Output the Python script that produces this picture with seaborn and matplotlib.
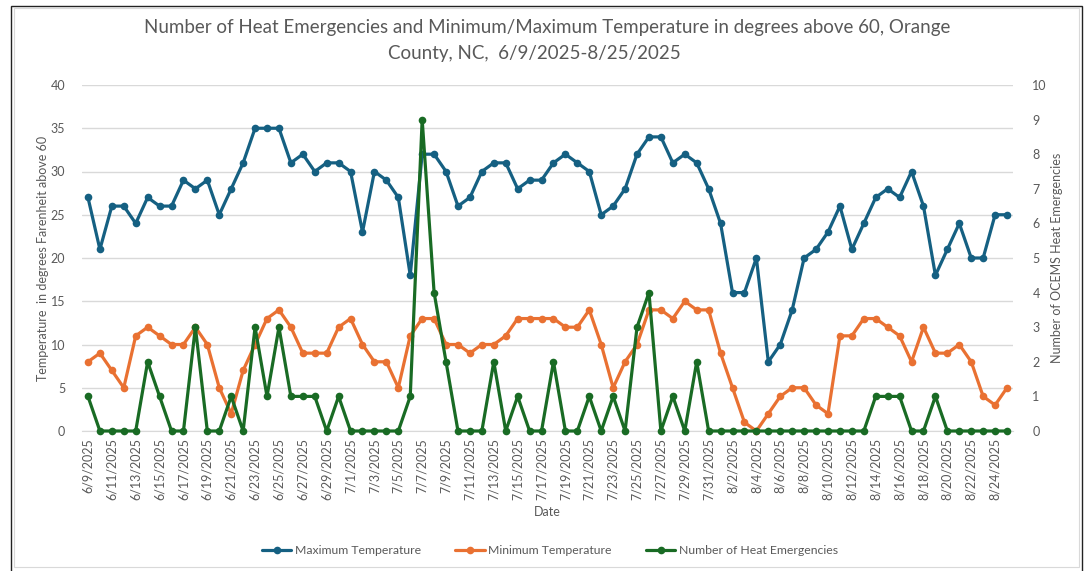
import matplotlib
matplotlib.use('Agg')
import matplotlib.pyplot as plt
from matplotlib.lines import Line2D
import seaborn as sns
import pandas as pd
import numpy as np

# Daily data, 6/9/2025 - 8/25/2025 (degrees above 60 F, heat emergency counts)
dates = pd.date_range('2025-06-09', '2025-08-25', freq='D')
date_labels = [f'{d.month}/{d.day}/{d.year}' for d in dates]

max_temp = [27, 21, 26, 26, 24, 27, 26, 26, 29, 28, 29, 25, 28, 31, 35, 35, 35, 31, 32, 30, 31, 31,
            30, 23, 30, 29, 27, 18, 32, 32, 30, 26, 27, 30, 31, 31, 28, 29, 29, 31, 32, 31, 30, 25,
            26, 28, 32, 34, 34, 31, 32, 31, 28,
            24, 16, 16, 20, 8, 10, 14, 20, 21, 23, 26, 21, 24, 27, 28, 27, 30, 26, 18, 21, 24, 20,
            20, 25, 25]
min_temp = [8, 9, 7, 5, 11, 12, 11, 10, 10, 12, 10, 5, 2, 7, 10, 13, 14, 12, 9, 9, 9, 12,
            13, 10, 8, 8, 5, 11, 13, 13, 10, 10, 9, 10, 10, 11, 13, 13, 13, 13, 12, 12, 14, 10,
            5, 8, 10, 14, 14, 13, 15, 14, 14,
            9, 5, 1, 0, 2, 4, 5, 5, 3, 2, 11, 11, 13, 13, 12, 11, 8, 12, 9, 9, 10, 8,
            4, 3, 5]
heat_emerg = [1, 0, 0, 0, 0, 2, 1, 0, 0, 3, 0, 0, 1, 0, 3, 1, 3, 1, 1, 1, 0, 1,
              0, 0, 0, 0, 0, 1, 9, 4, 2, 0, 0, 0, 2, 0, 1, 0, 0, 2, 0, 0, 1, 0,
              1, 0, 3, 4, 0, 1, 0, 2, 0,
              0, 0, 0, 0, 0, 0, 0, 0, 0, 0, 0, 0, 0, 1, 1, 1, 0, 0, 1, 0, 0, 0,
              0, 0, 0]

df = pd.DataFrame({'day': np.arange(len(dates)), 'max': max_temp,
                   'min': min_temp, 'heat': heat_emerg})

c_max, c_min, c_heat = '#156082', '#E97132', '#196B24'
grey = '#595959'

sns.set_style('white')
plt.rcParams['font.family'] = ['Lato', 'DejaVu Sans']

fig = plt.figure(figsize=(10.88, 5.71), dpi=100)
ax = fig.add_axes([82 / 1088, 140 / 571, 931 / 1088, 346 / 571])
ax2 = ax.twinx()

style = dict(marker='o', markersize=5.5, markeredgewidth=0, linewidth=2.3, clip_on=False)
sns.lineplot(data=df, x='day', y='max', ax=ax, color=c_max, legend=False, **style)
sns.lineplot(data=df, x='day', y='min', ax=ax, color=c_min, legend=False, **style)
sns.lineplot(data=df, x='day', y='heat', ax=ax2, color=c_heat, legend=False, **style)

ax.set_xlim(-0.5, len(dates) - 0.5)
ax.set_ylim(0, 40)
ax2.set_ylim(0, 10)
ax.set_yticks(range(0, 41, 5))
ax2.set_yticks(range(0, 11))

ax.set_xticks(df['day'][::2])
ax.set_xticklabels(date_labels[::2], rotation=90)
ax.set_xticks(np.arange(-0.5, len(dates), 2), minor=True)

ax.yaxis.grid(True, color='#d9d9d9', linewidth=1)
ax.set_axisbelow(True)
for a in (ax, ax2):
    for s in a.spines.values():
        s.set_visible(False)
ax.spines['bottom'].set_visible(True)
ax.spines['bottom'].set_color('#d9d9d9')

ax.tick_params(axis='y', length=0, pad=12, labelsize=9, labelcolor=grey)
ax2.tick_params(axis='y', length=0, pad=14, labelsize=9, labelcolor=grey)
ax.tick_params(axis='x', which='major', length=0, pad=5, labelsize=9, labelcolor=grey)
ax.tick_params(axis='x', which='minor', length=4, width=1, color='#d9d9d9')

ax.set_xlabel('Date', fontsize=9, color=grey, labelpad=4)
ax.set_ylabel('Temperature  in degrees Farenheit above 60', fontsize=9, color=grey, labelpad=1)
ax2.set_ylabel('Number of OCEMS Heat Emergencies', fontsize=9, color=grey, labelpad=3)

fig.text(547 / 1088, 1 - 27 / 571, 'Number of Heat Emergencies and Minimum/Maximum Temperature in degrees above 60, Orange',
         ha='center', va='center', fontsize=13.5, color=grey)
fig.text(534 / 1088, 1 - 53 / 571, 'County, NC,  6/9/2025-8/25/2025',
         ha='center', va='center', fontsize=13.5, color=grey)

handles = [Line2D([], [], color=c, marker='o', markersize=5.5, markeredgewidth=0, linewidth=2.3)
           for c in (c_max, c_min, c_heat)]
fig.legend(handles, ['Maximum Temperature', 'Minimum Temperature', 'Number of Heat Emergencies'],
           loc='center', bbox_to_anchor=(550 / 1088, 1 - 551 / 571), ncol=3, frameon=False,
           fontsize=8.8, labelcolor=grey, handlelength=2.4, handletextpad=0.3, columnspacing=2.8)

# chart border
fig.patches.append(plt.Rectangle((11 / 1088, -0.01), 1071 / 1088, 1 - 6 / 571 + 0.01,
                                 transform=fig.transFigure, fill=False, edgecolor='#222222', linewidth=1))
fig.patches.append(plt.Rectangle((14 / 1088, 4 / 571), 1065 / 1088, 1 - 12 / 571,
                                 transform=fig.transFigure, fill=False, edgecolor='#d9d9d9', linewidth=0.8))

fig.savefig('out.png', dpi=100)
